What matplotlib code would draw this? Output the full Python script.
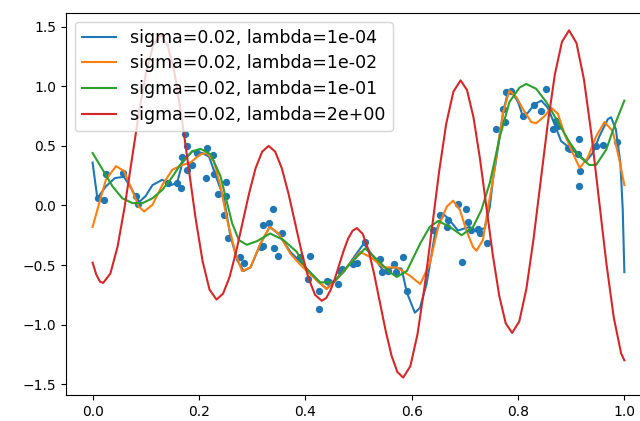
import matplotlib
matplotlib.use("Agg")
import matplotlib.pyplot as plt

# noisy samples
sample_x = [0.01, 0.022, 0.025, 0.057, 0.081, 0.086, 0.141, 0.159, 0.166, 0.169,
            0.173, 0.177, 0.178, 0.1875, 0.197, 0.216, 0.227, 0.2125, 0.229, 0.25,
            0.2355, 0.25, 0.247, 0.254, 0.284, 0.278, 0.316, 0.321, 0.321, 0.331,
            0.34, 0.342, 0.348, 0.356, 0.39, 0.408, 0.406, 0.425, 0.425, 0.44,
            0.444, 0.462, 0.466, 0.469, 0.49, 0.497, 0.5125, 0.54, 0.544, 0.556,
            0.567, 0.57, 0.583, 0.591, 0.64, 0.653, 0.669, 0.666, 0.687, 0.703,
            0.706, 0.7125, 0.725, 0.728, 0.741, 0.694, 0.759, 0.772, 0.775, 0.778,
            0.7875, 0.809, 0.831, 0.844, 0.853, 0.866, 0.872, 0.875, 0.894, 0.897,
            0.914, 0.912, 0.916, 0.914, 0.947, 0.959, 0.987]
sample_y = [0.06, 0.047, 0.26, 0.27, 0.08, 0.01, 0.19, 0.19, 0.15, 0.41,
            0.60, 0.50, 0.30, 0.34, 0.44, 0.48, 0.42, 0.23, 0.26, 0.20,
            0.10, 0.08, -0.08, -0.27, -0.485, -0.43, -0.35, -0.34, -0.165, -0.15,
            -0.03, -0.36, -0.42, -0.23, -0.43, -0.42, -0.62, -0.72, -0.865, -0.63,
            -0.645, -0.66, -0.55, -0.53, -0.49, -0.48, -0.31, -0.45, -0.56, -0.55,
            -0.49, -0.56, -0.43, -0.72, -0.21, -0.08, -0.12, -0.18, 0.01, -0.03,
            -0.14, -0.21, -0.20, -0.235, -0.315, -0.476, 0.64, 0.81, 0.70, 0.95,
            0.96, 0.75, 0.84, 0.795, 0.98, 0.64, 0.71, 0.67, 0.485, 0.47,
            0.56, 0.43, 0.29, 0.16, 0.50, 0.51, 0.53]

# lambda = 1e-04
x1 = [0.0, 0.009, 0.025, 0.042, 0.059, 0.072, 0.081, 0.088, 0.1, 0.1125,
      0.131, 0.147, 0.159, 0.169, 0.1875, 0.206, 0.219, 0.234, 0.247, 0.259,
      0.272, 0.284, 0.297, 0.316, 0.333, 0.35, 0.372, 0.397, 0.422, 0.44,
      0.459, 0.478, 0.497, 0.51, 0.528, 0.547, 0.5655, 0.581, 0.591, 0.606,
      0.6156, 0.628, 0.644, 0.659, 0.669, 0.687, 0.709, 0.722, 0.7375, 0.747,
      0.753, 0.759, 0.772, 0.781, 0.79, 0.80, 0.809, 0.819, 0.831, 0.844,
      0.856, 0.869, 0.881, 0.897, 0.9125, 0.928, 0.9405, 0.953, 0.969, 0.975,
      0.984, 0.9925, 0.997, 1.0]
y1 = [0.36, 0.06, 0.16, 0.23, 0.24, 0.15, 0.075, 0.03, 0.08, 0.17,
      0.216, 0.17, 0.19, 0.36, 0.455, 0.44, 0.41, 0.22, 0.06, -0.25,
      -0.46, -0.55, -0.52, -0.32, -0.18, -0.24, -0.39, -0.50, -0.63, -0.70,
      -0.62, -0.52, -0.40, -0.32, -0.43, -0.55, -0.52, -0.53, -0.73, -0.90,
      -0.86, -0.66, -0.235, -0.07, -0.11, -0.21, -0.18, -0.22, -0.19, -0.01,
      0.22, 0.385, 0.78, 0.95, 0.94, 0.87, 0.75, 0.78, 0.85, 0.88,
      0.82, 0.68, 0.54, 0.485, 0.43, 0.37, 0.44, 0.58, 0.725, 0.74,
      0.64, 0.36, -0.04, -0.56]

# lambda = 1e-02
x2 = [0.0, 0.0125, 0.025, 0.044, 0.059, 0.075, 0.087, 0.097, 0.1125, 0.131,
      0.15, 0.169, 0.184, 0.203, 0.2155, 0.228, 0.2406, 0.253, 0.269, 0.281,
      0.297, 0.3156, 0.333, 0.35, 0.372, 0.387, 0.405, 0.422, 0.44, 0.459,
      0.478, 0.503, 0.525, 0.547, 0.572, 0.597, 0.616, 0.634, 0.65, 0.666,
      0.678, 0.691, 0.703, 0.7155, 0.722, 0.734, 0.744, 0.753, 0.759, 0.772,
      0.784, 0.797, 0.809, 0.825, 0.834, 0.85, 0.8625, 0.875, 0.8875, 0.903,
      0.916, 0.931, 0.947, 0.9625, 0.978, 0.9905, 1.0]
y2 = [-0.18, 0.02, 0.215, 0.33, 0.29, 0.12, -0.01, -0.05, 0.005, 0.17,
      0.30, 0.34, 0.36, 0.43, 0.44, 0.37, 0.16, -0.12, -0.405, -0.55,
      -0.52, -0.32, -0.18, -0.235, -0.405, -0.48, -0.56, -0.63, -0.70, -0.62,
      -0.52, -0.39, -0.44, -0.52, -0.52, -0.59, -0.66, -0.49, -0.18, -0.01,
      0.04, -0.04, -0.21, -0.35, -0.38, -0.29, -0.01, 0.22, 0.41, 0.78,
      0.965, 0.91, 0.81, 0.70, 0.69, 0.75, 0.82, 0.77, 0.60, 0.44,
      0.315, 0.40, 0.58, 0.70, 0.625, 0.385, 0.17]

# lambda = 1e-01
x3 = [0.0, 0.019, 0.0375, 0.056, 0.075, 0.094, 0.1125, 0.131, 0.15, 0.169,
      0.1875, 0.203, 0.222, 0.2406, 0.253, 0.2625, 0.275, 0.29, 0.309, 0.334,
      0.359, 0.384, 0.4, 0.428, 0.453, 0.478, 0.5125, 0.534, 0.559, 0.572,
      0.591, 0.616, 0.634, 0.65, 0.672, 0.694, 0.7155, 0.731, 0.747, 0.766,
      0.784, 0.803, 0.8155, 0.834, 0.853, 0.872, 0.897, 0.916, 0.934, 0.947,
      0.966, 0.984, 1.0]
y3 = [0.44, 0.30, 0.16, 0.06, 0.02, 0.02, 0.06, 0.13, 0.24, 0.37,
      0.455, 0.475, 0.43, 0.245, 0.02, -0.15, -0.29, -0.33, -0.30, -0.235,
      -0.29, -0.39, -0.52, -0.645, -0.645, -0.52, -0.36, -0.45, -0.56, -0.60,
      -0.55, -0.32, -0.18, -0.13, -0.18, -0.25, -0.18, -0.04, 0.19, 0.58,
      0.87, 0.99, 1.02, 0.98, 0.87, 0.725, 0.53, 0.41, 0.34, 0.34,
      0.47, 0.70, 0.88]

# lambda = 2e+00
x4 = [0.0, 0.007, 0.014, 0.02,
      0.0335, 0.047, 0.0605, 0.074, 0.0875, 0.101, 0.1145, 0.128,
      0.1411, 0.1543, 0.1674, 0.1805, 0.1936, 0.2068, 0.2199, 0.233,
      0.2453, 0.2575, 0.2698, 0.282, 0.2943, 0.3065, 0.3188, 0.331,
      0.3435, 0.356, 0.3685, 0.381, 0.3935, 0.406, 0.4185, 0.431,
      0.4393, 0.4475, 0.4558, 0.464, 0.4723, 0.4805, 0.4888, 0.497,
      0.5079, 0.5188, 0.5296, 0.5405, 0.5514, 0.5623, 0.5731, 0.584,
      0.5975, 0.611, 0.6245, 0.638, 0.6515, 0.665, 0.6785, 0.692,
      0.7041, 0.7163, 0.7284, 0.7405, 0.7526, 0.7648, 0.7769, 0.789,
      0.8024, 0.8158, 0.8291, 0.8425, 0.8559, 0.8693, 0.8826, 0.896,
      0.91, 0.924, 0.938, 0.952, 0.966, 0.98, 0.994, 1.0]
y4 = [-0.48, -0.58, -0.64, -0.65,
      -0.571, -0.346, -0.007, 0.39, 0.787, 1.126, 1.351, 1.43,
      1.346, 1.106, 0.744, 0.32, -0.104, -0.466, -0.706, -0.79,
      -0.741, -0.602, -0.391, -0.145, 0.101, 0.312, 0.451, 0.50,
      0.451, 0.31, 0.098, -0.15, -0.398, -0.61, -0.751, -0.80,
      -0.777, -0.711, -0.612, -0.495, -0.378, -0.279, -0.213, -0.19,
      -0.238, -0.373, -0.578, -0.818, -1.057, -1.262, -1.397, -1.445,
      -1.35, -1.081, -0.674, -0.198, 0.279, 0.686, 0.955, 1.05,
      0.969, 0.74, 0.395, -0.01, -0.415, -0.76, -0.989, -1.07,
      -0.973, -0.699, -0.285, 0.20, 0.685, 1.099, 1.373, 1.47,
      1.363, 1.058, 0.599, 0.06, -0.479, -0.938, -1.243, -1.30]

labels = ['sigma=0.02, lambda=1e-04', 'sigma=0.02, lambda=1e-02',
          'sigma=0.02, lambda=1e-01', 'sigma=0.02, lambda=2e+00']

fig = plt.figure(figsize=(6.4, 4.21), dpi=100)
# the right edge of the axes is cut off in the original picture
ax = fig.add_axes([0.1031, 0.0618, 0.914, 0.9074])

ax.scatter(sample_x, sample_y, s=18, color='C0')
ax.plot(x1, y1, label=labels[0])
ax.plot(x2, y2, label=labels[1])
ax.plot(x3, y3, label=labels[2])
ax.plot(x4, y4, label=labels[3])
ax.legend(loc='upper left', fontsize=12.5, labelspacing=0.45)

fig.savefig('out.png', dpi=100)
